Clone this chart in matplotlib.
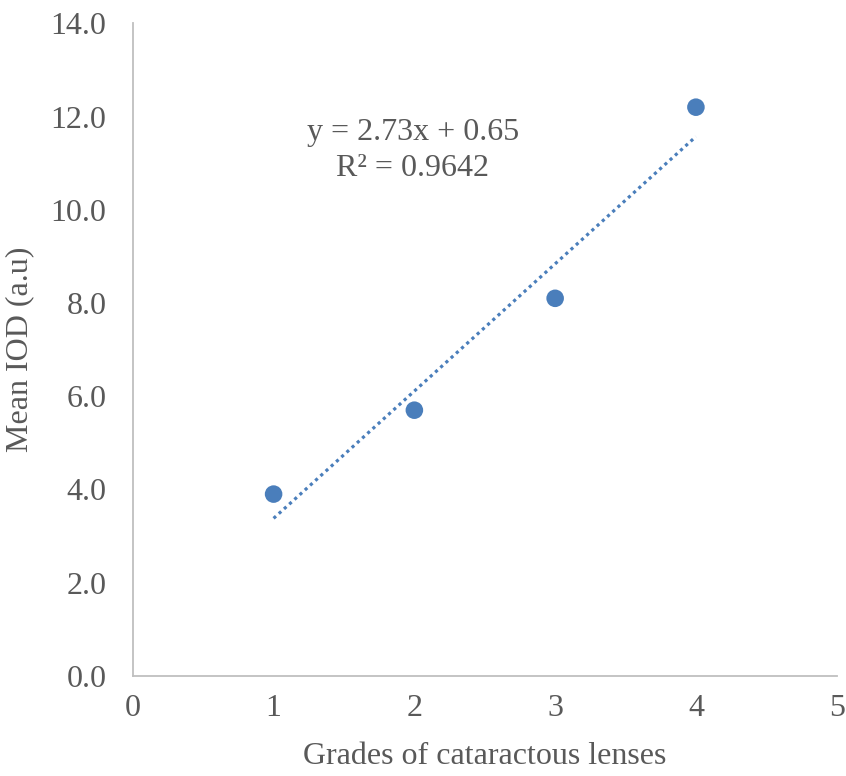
import matplotlib
matplotlib.use("Agg")
import matplotlib.pyplot as plt
import numpy as np

grades = [1, 2, 3, 4]
mean_iod = [3.9, 5.7, 8.1, 12.2]
x_ticks = [0, 1, 2, 3, 4, 5]
y_ticks = [0, 2, 4, 6, 8, 10, 12, 14]

plt.rcParams['font.family'] = ['Liberation Serif', 'DejaVu Serif']
gray = '#595959'
blue = '#4A7EBB'

fig = plt.figure(figsize=(8.46, 7.76), dpi=100)
ax = fig.add_axes([0.157, 0.129, 0.832, 0.841])

ax.scatter(grades, mean_iod, s=160, color=blue, zorder=3, edgecolors='none')

slope, intercept = np.polyfit(grades, mean_iod, 1)
xs = np.array([min(grades), max(grades)])
ax.plot(xs, slope * xs + intercept, linestyle=(0, (1, 1.2)), color=blue, linewidth=2.3, zorder=2)
pred = slope * np.array(grades) + intercept
r2 = 1 - np.sum((np.array(mean_iod) - pred) ** 2) / np.sum((np.array(mean_iod) - np.mean(mean_iod)) ** 2)
ax.text(1.99, 11.27, f"y = {slope:.2f}x + {intercept:.2f}\nR² = {r2:.4f}",
        ha='center', va='center', fontsize=23, color=gray, linespacing=1.3)

ax.set_xlim(0, 5)
ax.set_ylim(0, 14)
ax.set_xticks(x_ticks)
ax.set_xticklabels([str(t) for t in x_ticks])
ax.set_yticks(y_ticks)
ax.set_yticklabels([f"{t:.1f}" for t in y_ticks])
ax.tick_params(axis='both', length=0, labelsize=23, labelcolor=gray)
ax.tick_params(axis='y', pad=19)
ax.tick_params(axis='x', pad=13)

for s in ['top', 'right']:
    ax.spines[s].set_visible(False)
for s in ['left', 'bottom']:
    ax.spines[s].set_color('#BFBFBF')
    ax.spines[s].set_linewidth(1.3)

ax.set_xlabel('Grades of cataractous lenses', fontsize=23, color=gray, labelpad=14)
ax.set_ylabel('Mean IOD (a.u)', fontsize=23, color=gray, labelpad=12)

fig.savefig('out.png', dpi=100)
